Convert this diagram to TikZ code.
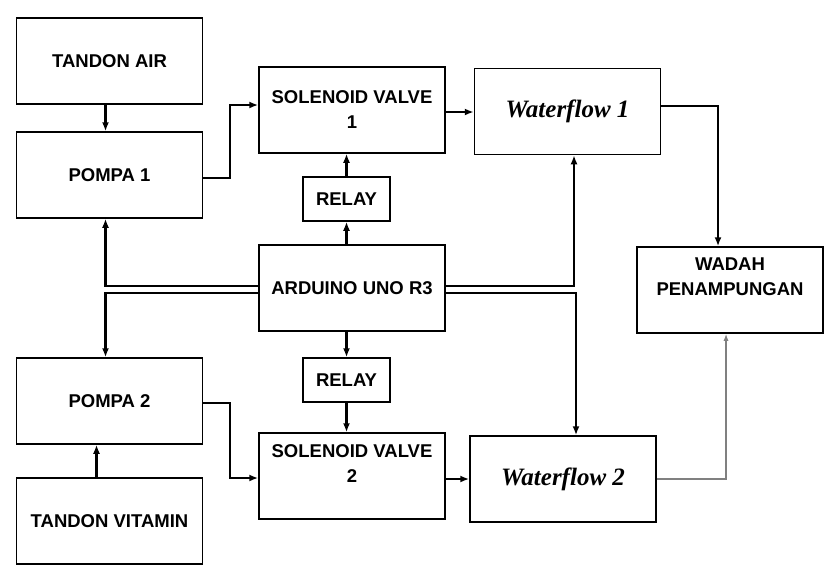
\documentclass[tikz,border=0pt]{standalone}
\usepackage{fontspec}
\setmainfont{Liberation Sans}
\newfontfamily\flowfont{Liberation Serif}
\usetikzlibrary{arrows.meta,positioning}

\begin{document}
\begin{tikzpicture}[
  x=1pt,y=-1pt,
  box/.style={draw,line width=1.5pt,align=center,minimum width=186pt,
              minimum height=86pt,font=\fontsize{18.5}{25}\selectfont\bfseries},
  relaybox/.style={box,minimum width=87pt,minimum height=44pt},
  flowbox/.style={box,font=\fontsize{25}{28}\selectfont\flowfont\bfseries\itshape},
  arrow/.style={-{Latex[length=9pt,width=7pt]},line width=2.4pt},
  grayarrow/.style={-{Latex[length=7pt,width=5pt]},line width=1.3pt,gray}
]
\useasboundingbox (0,0) rectangle (834,579);
\node[box] (tair) at (109.5,61) {TANDON AIR};
\node[box] (pompa1) at (109.5,175) {POMPA 1};
\node[box] (valve1) at (352,110) {SOLENOID VALVE\\1};
\node[relaybox] (relay1) at (346.5,199) {RELAY};
\node[box] (uno) at (352,288) {ARDUINO UNO R3};
\node[flowbox] (flow1) at (567.5,111.5) {Waterflow 1};
\node[box,text depth=27pt] (wadah) at (730,290) {WADAH\\PENAMPUNGAN};
\node[box] (pompa2) at (109.5,401) {POMPA 2};
\node[box] (tvit) at (109.5,521) {TANDON VITAMIN};
\node[relaybox] (relay2) at (346.5,380) {RELAY};
\node[box,text depth=25pt] (valve2) at (352,476) {SOLENOID VALVE\\2};
\node[flowbox] (flow2) at (563,479) {Waterflow 2};
% aliran air
\draw[arrow] ([xshift=-4]tair.south) -- ([xshift=-4]pompa1.north);
\draw[arrow] ([yshift=-3]pompa1.east) -- ++(27,0) |- ([yshift=5]valve1.west);
\draw[arrow] ([yshift=-2]valve1.east) -- ([yshift=-2]valve1.east -| flow1.west);
\draw[arrow] ([yshift=5.5]flow1.east) -| ([xshift=-12]wadah.north);
\draw[arrow] ([xshift=-13]tvit.north) -- ([xshift=-13]pompa2.south);
\draw[arrow] ([yshift=-2]pompa2.east) -- ++(27,0) |- ([yshift=-2]valve2.west);
\draw[arrow] ([yshift=-3]valve2.east) -- (flow2.west);
\draw[grayarrow] (flow2.east) -| ([xshift=-4]wadah.south);
% kendali arduino
\draw[arrow] (relay1.south |- uno.north) -- (relay1.south);
\draw[arrow] (relay1.north) -- (relay1.north |- valve1.south);
\draw[arrow] (relay2.north |- uno.south) -- (relay2.north);
\draw[arrow] (relay2.south) -- (relay2.south |- valve2.north);
\draw[arrow] ([yshift=2]uno.west) -| ([xshift=-4]pompa1.south);
\draw[arrow] ([yshift=-5]uno.west) -| ([xshift=-4]pompa2.north);
\draw[arrow] ([yshift=2]uno.east) -| ([xshift=6.5]flow1.south);
\draw[arrow] ([yshift=-5]uno.east) -| ([xshift=13]flow2.north);
\end{tikzpicture}
\end{document}
